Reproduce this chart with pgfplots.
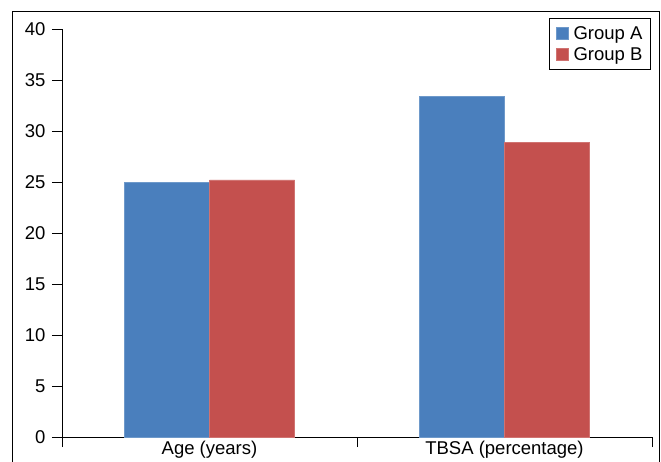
\documentclass[border=0pt]{standalone}
\usepackage{fontspec}
\setmainfont{Liberation Sans}
\usepackage{pgfplots}
\pgfplotsset{compat=1.18}
\definecolor{grpA}{RGB}{74,127,189}
\definecolor{grpB}{RGB}{196,80,78}
\begin{document}
\begin{tikzpicture}
\begin{axis}[
    at={(0,0)}, anchor=south west,
    scale only axis,
    width=590pt, height=408pt,
    ybar=0pt, bar width=85pt,
    xmin=-0.5, xmax=1.5,
    ymin=0, ymax=40,
    ytick={0,5,...,40},
    xtick={-0.5,0.5,1.5},
    xticklabels={},
    extra x ticks={0,1},
    extra x tick labels={Age (years), TBSA (percentage)},
    extra x tick style={tick style={draw=none},
        xticklabel style={yshift=9pt}},
    axis x line=bottom, axis y line=left,
    axis line style={-, line width=0.8pt},
    tick style={black, line width=0.8pt},
    tick align=outside,
    major tick length=10pt,
    ticklabel style={font=\fontsize{18.5}{22}\selectfont},
    yticklabel style={xshift=-3pt},
    /pgf/number format/assume math mode=true,
    legend style={at={(0.998,1.027)}, anchor=north east,
        font=\fontsize{18.5}{22}\selectfont, draw=black, line width=0.8pt,
        inner xsep=6pt, inner ysep=6pt, row sep=2.5pt,
        /tikz/every odd column/.append style={column sep=3pt}},
    legend image code/.code={\fill[#1] (0pt,-6pt) rectangle (12pt,6pt);},
    legend cell align=left,
]
\addplot[fill=grpA, draw=grpA!80!white] coordinates {(0,25.0) (1,33.4)};
\addplot[fill=grpB, draw=grpB!80!white] coordinates {(0,25.2) (1,28.9)};
\legend{Group A, Group B}
\end{axis}
\draw[line width=0.8pt] (-50pt,-30pt) -- (-50pt,426pt) -- (597pt,426pt) -- (597pt,-30pt);
\pgfresetboundingbox
\useasboundingbox (-62pt,-24pt) rectangle (599pt,437pt);
\end{tikzpicture}
\end{document}
